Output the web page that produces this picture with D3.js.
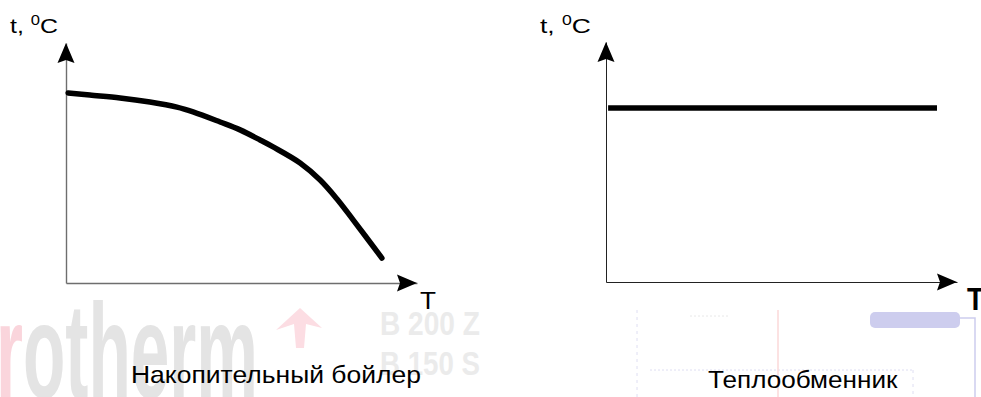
<!DOCTYPE html>
<meta charset="utf-8">
<html>
<head>
  <script src="https://d3js.org/d3.v7.min.js"></script>
  <style>
    body { margin: 0; background: #fff; }
    svg { display: block; }
    text { font-family: "Liberation Sans", Arial, sans-serif; }
  </style>
</head>
<body>
  <script>
    // Data (T and t in arbitrary units 0..10)
    var boilerT = [0.06, 0.68, 1.54, 2.39, 3.16, 3.62, 4.39, 4.96, 5.53, 5.90, 6.67, 7.24, 7.72, 8.18, 9.0];
    var boilerTemp = [7.92, 7.83, 7.71, 7.54, 7.33, 7.13, 6.71, 6.38, 5.96, 5.67, 5.0, 4.29, 3.5, 2.63, 1.04];
    var exchT = [0.06, 9.43];
    var exchTemp = [7.25, 7.25];
    var titles = ["Накопительный бойлер", "Теплообменник"];
    var xLabel = "T";

    var W = 981, H = 397;
    var pw = 351, ph = 240;

    var svg = d3.select("body").append("svg")
      .attr("width", W)
      .attr("height", H);

    // stretch a text horizontally to a given width
    function fit(sel, width) {
      var bb = sel.node().getBBox();
      var x = +sel.attr("data-x"), y = +sel.attr("data-y");
      sel.attr("x", 0).attr("y", 0)
        .attr("transform", `translate(${x},${y}) scale(${width / bb.width},1)`);
    }

    //Background watermark (faint logo of the source picture)
    var bg = svg.append("g").attr("class", "bg");
    var logo = bg.append("text")
      .attr("data-x", -4).attr("data-y", 398)
      .attr("font-size", 136)
      .attr("font-weight", "bold")
      .attr("fill", "#e4e4e4");
    logo.append("tspan").attr("fill", "#fad5dc").text("r");
    logo.append("tspan").text("otherm");
    fit(logo, 262);
    bg.append("path")
      .attr("d", "M300,308 L322,328 L306,324 L304,348 L296,348 L294,324 L276,330 Z")
      .attr("fill", "#fcdde3");
    [["B 200 Z", 335], ["B 150 S", 375]].forEach(function (d) {
      var t = bg.append("text")
        .attr("data-x", 380).attr("data-y", d[1])
        .attr("font-size", 34)
        .attr("font-weight", "bold")
        .attr("fill", "#ebebeb")
        .text(d[0]);
      fit(t, 100);
    });
    bg.append("line").attr("x1", 637).attr("y1", 310).attr("x2", 637).attr("y2", 397)
      .attr("stroke", "#dedef2").attr("stroke-dasharray", "3,4");
    bg.append("line").attr("x1", 650).attr("y1", 370).attr("x2", 913).attr("y2", 370)
      .attr("stroke", "#dedef2").attr("stroke-dasharray", "2,2");
    bg.append("line").attr("x1", 913).attr("y1", 370).attr("x2", 913).attr("y2", 397)
      .attr("stroke", "#dedef2").attr("stroke-dasharray", "3,4");
    bg.append("line").attr("x1", 690).attr("y1", 316).attr("x2", 730).attr("y2", 316)
      .attr("stroke", "#e8e8e8").attr("stroke-dasharray", "2,2");
    bg.append("line").attr("x1", 778).attr("y1", 310).attr("x2", 778).attr("y2", 397)
      .attr("stroke", "#fbd8d8").attr("stroke-width", 1.5);
    bg.append("rect").attr("x", 870).attr("y", 312).attr("width", 90).attr("height", 16)
      .attr("rx", 5).attr("fill", "#cdcdee");
    bg.append("path").attr("d", "M960,318 H975 V397")
      .attr("fill", "none").attr("stroke", "#cdcdee").attr("stroke-width", 1.5);

    function panel(ox, oy, Tvals, tvals, title, opt) {
      var g = svg.append("g").attr("transform", `translate(${ox},${oy})`);

      var x = d3.scaleLinear().domain([0, 10]).range([0, pw]);
      var y = d3.scaleLinear().domain([0, 10]).range([ph, 0]);

      //Axes: only the domain line, no ticks
      g.append("g").attr("class", "x-axis")
        .attr("transform", `translate(0,${ph})`)
        .call(d3.axisBottom(x).ticks(0).tickSizeOuter(0))
        .select(".domain").attr("stroke", opt.axisColor).attr("stroke-width", opt.axisWidth);
      g.append("g").attr("class", "y-axis")
        .call(d3.axisLeft(y).ticks(0).tickSizeOuter(0))
        .select(".domain").attr("stroke", opt.axisColor).attr("stroke-width", opt.axisWidth);

      //Arrowheads
      var L = 20, hw = 8.5, n = 3;
      var xt = x(10), yt = y(10);
      g.append("path")
        .attr("d", `M${xt},${ph} L${xt - L},${ph - hw} L${xt - L + n},${ph} L${xt - L},${ph + hw} Z`)
        .attr("fill", "#000");
      g.append("path")
        .attr("d", `M0,${yt} L${-hw},${yt + L} L0,${yt + L - n} L${hw},${yt + L} Z`)
        .attr("fill", "#000");

      //Curve
      var pts = Tvals.map((d, i) => [d, tvals[i]]);
      g.append("path")
        .datum(pts)
        .attr("fill", "none")
        .attr("stroke", "#000")
        .attr("stroke-width", 5.5)
        .attr("stroke-linecap", opt.cap)
        .attr("d", d3.line().x(d => x(d[0])).y(d => y(d[1])).curve(d3.curveCatmullRom.alpha(0.5)));

      //Y label "t, 0C"
      var yl = svg.append("text")
        .attr("data-x", opt.ylx).attr("data-y", 33)
        .attr("font-size", 21)
        .attr("fill", "#000");
      yl.append("tspan").text("t, ");
      yl.append("tspan").attr("font-size", 14).attr("dy", -8).text("0");
      yl.append("tspan").attr("dy", 8).text("C");
      fit(yl, opt.ylw);

      //X label "T"
      var xl = svg.append("text")
        .attr("data-x", opt.txx).attr("data-y", opt.txy)
        .attr("font-size", opt.txs)
        .attr("font-weight", opt.txw)
        .attr("fill", "#000")
        .text(xLabel);
      fit(xl, opt.txwd);

      //Title
      var tt = svg.append("text")
        .attr("data-x", opt.ttx).attr("data-y", opt.tty)
        .attr("font-size", 24)
        .attr("fill", "#000")
        .text(title);
      fit(tt, opt.ttw);
    }

    panel(66, 43, boilerT, boilerTemp, titles[0], {
      axisColor: "#6e6e6e", axisWidth: 1.4, cap: "round",
      ylx: 10, ylw: 48,
      txx: 420, txy: 309, txs: 23, txw: "normal", txwd: 16,
      ttx: 131, tty: 383, ttw: 290
    });
    panel(606, 42, exchT, exchTemp, titles[1], {
      axisColor: "#222", axisWidth: 1, cap: "butt",
      ylx: 540, ylw: 51,
      txx: 967, txy: 310, txs: 31, txw: "bold", txwd: 17,
      ttx: 708, tty: 388, ttw: 190
    });
  </script>
</body>
</html>
